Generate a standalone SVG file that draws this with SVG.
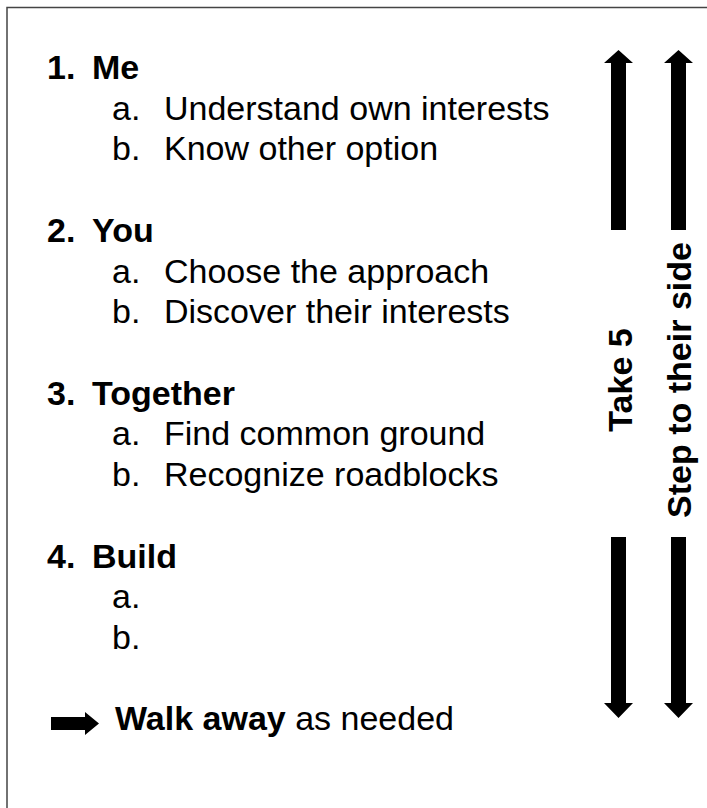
<svg xmlns="http://www.w3.org/2000/svg" width="707" height="808" viewBox="0 0 707 808">
  <style>
    .t { font-family: "Liberation Sans", Arial, sans-serif; font-size: 34px; fill: #000; }
    .b { font-weight: bold; }
    .arrow { fill: #000; }
  </style>
  <rect x="0" y="0" width="707" height="808" fill="#fff"/>
  <rect x="7" y="7.5" width="720" height="820" fill="none" stroke="#444" stroke-width="1.5"/>

  <g id="section-me">
    <text class="t b" x="47" y="79">1.</text>
    <text class="t b" x="92" y="79">Me</text>
    <text class="t" x="112" y="120">a.</text>
    <text class="t" x="164" y="120">Understand own interests</text>
    <text class="t" x="112" y="160">b.</text>
    <text class="t" x="164" y="160">Know other option</text>
  </g>

  <g id="section-you">
    <text class="t b" x="47" y="242">2.</text>
    <text class="t b" x="92" y="242">You</text>
    <text class="t" x="112" y="283">a.</text>
    <text class="t" x="164" y="283">Choose the approach</text>
    <text class="t" x="112" y="323">b.</text>
    <text class="t" x="164" y="323">Discover their interests</text>
  </g>

  <g id="section-together">
    <text class="t b" x="47" y="405">3.</text>
    <text class="t b" x="92" y="405">Together</text>
    <text class="t" x="112" y="445">a.</text>
    <text class="t" x="164" y="445">Find common ground</text>
    <text class="t" x="112" y="486">b.</text>
    <text class="t" x="164" y="486">Recognize roadblocks</text>
  </g>

  <g id="section-build">
    <text class="t b" x="47" y="568">4.</text>
    <text class="t b" x="92" y="568">Build</text>
    <text class="t" x="112" y="608">a.</text>
    <text class="t" x="112" y="649">b.</text>
  </g>

  <g id="walk-away">
    <text class="t" x="115" y="730"><tspan class="b">Walk away</tspan> as needed</text>
  </g>

  <g id="take-5">
    <text class="t b" text-anchor="middle" transform="translate(632,380) rotate(-90)">Take 5</text>
  </g>

  <g id="step-to-their-side">
    <text class="t b" text-anchor="middle" transform="translate(691,380) rotate(-90)">Step to their side</text>
  </g>

  <g id="connectors">
    <polygon class="arrow" points="51,717 85,717 85,712 99,723.5 85,735 85,730 51,730"/>
    <polygon class="arrow" points="611,230 611,63 604,63 618.5,50 633,63 626,63 626,230"/>
    <polygon class="arrow" points="611,537 626,537 626,703 633,703 618.5,718 604,703 611,703"/>
    <polygon class="arrow" points="671,230 671,63 664,63 678.5,50 693,63 686,63 686,230"/>
    <polygon class="arrow" points="671,537 686,537 686,703 693,703 678.5,718 664,703 671,703"/>
  </g>
</svg>
